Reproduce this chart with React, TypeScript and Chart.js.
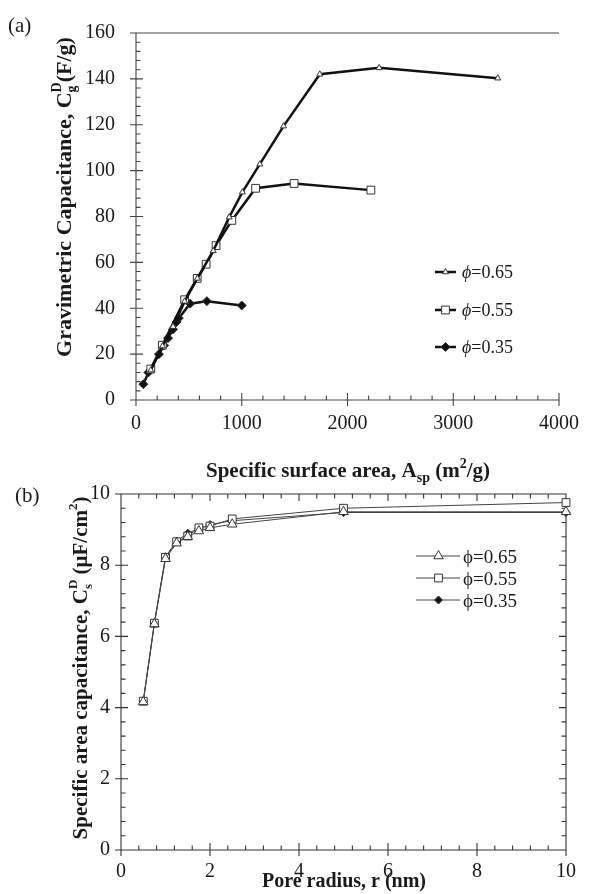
import React, { useEffect, useRef } from 'react';
import { Chart, registerables } from 'chart.js';

Chart.register(...registerables);

const W = 591;
const H = 894;
const SERIF = '"Liberation Serif", "Times New Roman", serif';

// ---------------- data: panel (a) ----------------
const legendValues = ['0.65', '0.55', '0.35'];

const areaA065 = [140, 250, 350, 460, 580, 730, 881, 1006, 1171, 1395, 1738, 2299, 3421];
const capA065 = [13, 23.5, 32, 43, 53, 65, 79.7, 90.6, 102.8, 119.4, 142, 144.8, 140.3];

const areaA055 = [140, 249, 460, 579, 663, 757, 906, 1131, 1495, 2221];
const capA055 = [13.5, 23.9, 43.7, 53, 59.2, 67.3, 78.3, 92.3, 94.4, 91.5];

const areaA035 = [70, 117, 217, 266, 303, 350, 383, 405, 511, 670, 1000];
const capA035 = [6.9, 12, 20, 23.8, 27, 30.8, 34, 35.7, 42, 43.1, 41.2];

const xTicksA = [0, 1000, 2000, 3000, 4000];
const yTicksA = [0, 20, 40, 60, 80, 100, 120, 140, 160];

// ---------------- data: panel (b) ----------------
const radiusB = [0.5, 0.75, 1.0, 1.25, 1.5, 1.75, 2, 2.5, 5, 10];
const capB065 = [4.16, 6.35, 8.18, 8.62, 8.8, 8.96, 9.05, 9.15, 9.5, 9.5];
const capB055 = [4.18, 6.37, 8.22, 8.66, 8.82, 9.05, 9.1, 9.3, 9.6, 9.76];
const capB035 = [4.18, 6.38, 8.24, 8.68, 8.9, 9.03, 9.14, 9.25, 9.48, 9.48];

const xTicksB = [0, 2, 4, 6, 8, 10];
const yTicksB = [0, 2, 4, 6, 8, 10];

// ---------------- helpers ----------------
type Part = { t: string; f: string; dy?: number; stack?: boolean };

function drawRich(ctx: CanvasRenderingContext2D, parts: Part[], x: number, y: number, align: 'left' | 'center', rotate: boolean) {
  ctx.save();
  ctx.translate(x, y);
  if (rotate) ctx.rotate(-Math.PI / 2);
  ctx.textBaseline = 'alphabetic';
  ctx.textAlign = 'left';
  const widths = parts.map((p) => {
    ctx.font = p.f;
    return ctx.measureText(p.t).width;
  });
  const pos: number[] = [];
  let cur = 0;
  let prevStart = 0;
  let prevW = 0;
  parts.forEach((p, i) => {
    const w = widths[i];
    if (p.stack) {
      pos.push(prevStart);
      cur = prevStart + Math.max(prevW, w);
    } else {
      pos.push(cur);
      prevStart = cur;
      prevW = w;
      cur += w;
    }
  });
  const x0 = align === 'center' ? -cur / 2 : 0;
  parts.forEach((p, i) => {
    ctx.font = p.f;
    ctx.fillText(p.t, x0 + pos[i], p.dy || 0);
  });
  ctx.restore();
}

function drawMarker(ctx: CanvasRenderingContext2D, style: string, x: number, y: number, r: number, fill: string, stroke: string) {
  ctx.save();
  ctx.beginPath();
  if (style === 'triangle') {
    let a = 0;
    ctx.moveTo(x + Math.sin(a) * r, y - Math.cos(a) * r);
    a += (2 * Math.PI) / 3;
    ctx.lineTo(x + Math.sin(a) * r, y - Math.cos(a) * r);
    a += (2 * Math.PI) / 3;
    ctx.lineTo(x + Math.sin(a) * r, y - Math.cos(a) * r);
    ctx.closePath();
  } else if (style === 'rect') {
    const s = r * Math.SQRT1_2;
    ctx.rect(x - s, y - s, 2 * s, 2 * s);
  } else {
    ctx.moveTo(x, y - r);
    ctx.lineTo(x + r, y);
    ctx.lineTo(x, y + r);
    ctx.lineTo(x - r, y);
    ctx.closePath();
  }
  ctx.fillStyle = fill;
  ctx.fill();
  ctx.strokeStyle = stroke;
  ctx.lineWidth = 1;
  ctx.stroke();
  ctx.restore();
}

type FrameOpts = {
  box: boolean;
  topLine: boolean;
  xMinor: number;
  xMajor: number;
  yMinor: number;
  yMajor: number;
  color: string;
};

function isMajor(v: number, step: number) {
  const q = v / step;
  return Math.abs(q - Math.round(q)) < 1e-6;
}

function drawFrame(chart: any, o: FrameOpts) {
  const ctx: CanvasRenderingContext2D = chart.ctx;
  const a = chart.chartArea;
  const xs = chart.scales.x;
  const ys = chart.scales.y;
  const OUT = 6;
  const MAJ = 7;
  const MIN = 4.5;
  ctx.save();
  ctx.strokeStyle = o.color;
  ctx.lineWidth = 1.1;
  ctx.beginPath();
  ctx.moveTo(a.left, a.top);
  ctx.lineTo(a.left, a.bottom);
  ctx.lineTo(a.right, a.bottom);
  if (o.box) {
    ctx.lineTo(a.right, a.top);
    ctx.lineTo(a.left, a.top);
  } else if (o.topLine) {
    ctx.moveTo(a.left, a.top);
    ctx.lineTo(a.right, a.top);
  }
  const ny = Math.round((ys.max - ys.min) / o.yMinor);
  for (let i = 0; i <= ny; i++) {
    const v = ys.min + i * o.yMinor;
    const p = ys.getPixelForValue(v);
    const major = isMajor(v, o.yMajor);
    if (major) {
      ctx.moveTo(a.left - OUT, p);
      ctx.lineTo(a.left + MAJ, p);
    } else {
      ctx.moveTo(a.left, p);
      ctx.lineTo(a.left + MIN, p);
    }
    if (o.box) {
      ctx.moveTo(a.right, p);
      ctx.lineTo(a.right - (major ? MAJ : MIN), p);
    }
  }
  const nx = Math.round((xs.max - xs.min) / o.xMinor);
  for (let i = 0; i <= nx; i++) {
    const v = xs.min + i * o.xMinor;
    const p = xs.getPixelForValue(v);
    const major = isMajor(v, o.xMajor);
    if (major) {
      ctx.moveTo(p, a.bottom + OUT);
      ctx.lineTo(p, a.bottom - MAJ);
    } else {
      ctx.moveTo(p, a.bottom);
      ctx.lineTo(p, a.bottom - MIN);
    }
    if (o.box) {
      ctx.moveTo(p, a.top);
      ctx.lineTo(p, a.top + (major ? MAJ : MIN));
    }
  }
  ctx.stroke();
  ctx.restore();
}

const mkData = (xs: number[], ys: number[]) => xs.map((x, i) => ({ x, y: ys[i] }));

const STYLES = ['triangle', 'rect', 'rectRot'];

// ---------------- panel (a) ----------------
function makeChartA(canvas: HTMLCanvasElement) {
  const B21 = `bold 21px ${SERIF}`;
  const B22 = `bold 22px ${SERIF}`;
  const B14 = `bold 14px ${SERIF}`;
  const decor = {
    id: 'decorA',
    beforeDatasetsDraw(chart: any) {
      drawFrame(chart, { box: false, topLine: true, xMinor: 200, xMajor: 1000, yMinor: 4, yMajor: 20, color: '#444' });
    },
    afterDraw(chart: any) {
      const ctx: CanvasRenderingContext2D = chart.ctx;
      ctx.save();
      ctx.fillStyle = '#1a1a1a';
      drawRich(ctx, [{ t: '(a)', f: `21px ${SERIF}` }], 8, 32, 'left', false);
      drawRich(
        ctx,
        [
          { t: 'Gravimetric Capacitance, C', f: B22 },
          { t: 'D', f: B14, dy: -10 },
          { t: 'g', f: B14, dy: 5, stack: true },
          { t: '(F/g)', f: B22 },
        ],
        71,
        197,
        'center',
        true
      );
      drawRich(
        ctx,
        [
          { t: 'Specific surface area, A', f: B21 },
          { t: 'sp', f: B14, dy: 5 },
          { t: ' (m', f: B21 },
          { t: '2', f: B14, dy: -9 },
          { t: '/g)', f: B21 },
        ],
        348,
        477,
        'center',
        false
      );
      // legend
      const ly = [272, 310, 347];
      const radii = [3.5, 5.5, 4.5];
      legendValues.forEach((val, i) => {
        ctx.save();
        ctx.strokeStyle = '#111';
        ctx.lineWidth = 2.5;
        ctx.beginPath();
        ctx.moveTo(435, ly[i]);
        ctx.lineTo(456, ly[i]);
        ctx.stroke();
        ctx.restore();
        drawMarker(ctx, STYLES[i], 445.5, ly[i], radii[i], i === 2 ? '#111' : '#fff', '#333');
        ctx.fillStyle = '#1a1a1a';
        drawRich(
          ctx,
          [
            { t: '\u03D5', f: `italic 18px ${SERIF}` },
            { t: '=' + val, f: `18px ${SERIF}` },
          ],
          462,
          ly[i] + 6,
          'left',
          false
        );
      });
      ctx.restore();
    },
  };

  const ds = (xs: number[], ys: number[], i: number, r: number) => ({
    label: 'ϕ=' + legendValues[i],
    data: mkData(xs, ys),
    showLine: true,
    borderColor: '#111',
    borderWidth: 2.5,
    pointStyle: STYLES[i],
    pointRadius: r,
    pointHoverRadius: r,
    pointBackgroundColor: i === 2 ? '#111' : '#fff',
    pointBorderColor: '#333',
    pointBorderWidth: 1,
    tension: 0,
    clip: false,
  });

  return new Chart(canvas, {
    type: 'scatter',
    data: {
      datasets: [
        ds(areaA065, capA065, 0, 3.5),
        ds(areaA055, capA055, 1, 5.5),
        ds(areaA035, capA035, 2, 4.5),
      ],
    },
    options: {
      responsive: false,
      animation: false,
      events: [],
      layout: { padding: { left: 0, top: 21, right: 25, bottom: 454 } },
      plugins: { legend: { display: false }, tooltip: { enabled: false } },
      scales: {
        x: {
          type: 'linear',
          min: 0,
          max: 4000,
          grid: { display: false, drawTicks: false },
          border: { display: false },
          ticks: {
            padding: 12,
            maxRotation: 0,
            color: '#1a1a1a',
            font: { family: SERIF, size: 20 },
            callback: (v: any) => String(v),
          },
          afterBuildTicks: (s: any) => {
            s.ticks = xTicksA.map((v) => ({ value: v }));
          },
          afterFit: (s: any) => {
            s.height = 40;
          },
        },
        y: {
          type: 'linear',
          min: 0,
          max: 160,
          grid: { display: false, drawTicks: false },
          border: { display: false },
          ticks: {
            padding: 21,
            color: '#1a1a1a',
            font: { family: SERIF, size: 20 },
            callback: (v: any) => String(v),
          },
          afterBuildTicks: (s: any) => {
            s.ticks = yTicksA.map((v) => ({ value: v }));
          },
          afterFit: (s: any) => {
            s.width = 136;
          },
        },
      },
    } as any,
    plugins: [decor],
  });
}

// ---------------- panel (b) ----------------
function makeChartB(canvas: HTMLCanvasElement) {
  const B21 = `bold 21px ${SERIF}`;
  const B20 = `bold 20px ${SERIF}`;
  const B13 = `bold 13px ${SERIF}`;
  const decor = {
    id: 'decorB',
    beforeDatasetsDraw(chart: any) {
      drawFrame(chart, { box: true, topLine: false, xMinor: 0.4, xMajor: 2, yMinor: 0.4, yMajor: 2, color: '#333' });
    },
    afterDraw(chart: any) {
      const ctx: CanvasRenderingContext2D = chart.ctx;
      ctx.save();
      ctx.fillStyle = '#1a1a1a';
      drawRich(ctx, [{ t: '(b)', f: `21px ${SERIF}` }], 15, 502, 'left', false);
      drawRich(
        ctx,
        [
          { t: 'Specific area capacitance, C', f: B21 },
          { t: 'D', f: B13, dy: -10 },
          { t: 's', f: B13, dy: 5, stack: true },
          { t: ' (\u03BCF/cm', f: B21 },
          { t: '2', f: B13, dy: -10 },
          { t: ')', f: B21 },
        ],
        87,
        668,
        'center',
        true
      );
      drawRich(ctx, [{ t: 'Pore radius, r (nm)', f: B20 }], 344, 887, 'center', false);
      // legend
      const ly = [556, 578, 600];
      const radii = [5.5, 5.5, 4];
      legendValues.forEach((val, i) => {
        ctx.save();
        ctx.strokeStyle = '#444';
        ctx.lineWidth = 1;
        ctx.beginPath();
        ctx.moveTo(416, ly[i]);
        ctx.lineTo(460, ly[i]);
        ctx.stroke();
        ctx.restore();
        drawMarker(ctx, STYLES[i], 438.5, ly[i], radii[i], i === 2 ? '#111' : '#fff', '#333');
        ctx.fillStyle = '#1a1a1a';
        drawRich(ctx, [{ t: '\u03D5=' + val, f: `19px ${SERIF}` }], 463, ly[i] + 7, 'left', false);
      });
      ctx.restore();
    },
  };

  const ds = (ys: number[], i: number, r: number) => ({
    label: 'ϕ=' + legendValues[i],
    data: mkData(radiusB, ys),
    showLine: true,
    borderColor: '#444',
    borderWidth: 1,
    pointStyle: STYLES[i],
    pointRadius: r,
    pointHoverRadius: r,
    pointBackgroundColor: i === 2 ? '#111' : '#fff',
    pointBorderColor: '#333',
    pointBorderWidth: 1,
    tension: 0,
    clip: false,
  });

  return new Chart(canvas, {
    type: 'scatter',
    data: {
      datasets: [ds(capB065, 0, 5.5), ds(capB055, 1, 5.5), ds(capB035, 2, 4)],
    },
    options: {
      responsive: false,
      animation: false,
      events: [],
      layout: { padding: { left: 0, top: 494, right: 25, bottom: 0 } },
      plugins: { legend: { display: false }, tooltip: { enabled: false } },
      scales: {
        x: {
          type: 'linear',
          min: 0,
          max: 10,
          grid: { display: false, drawTicks: false },
          border: { display: false },
          ticks: {
            padding: 10,
            maxRotation: 0,
            color: '#1a1a1a',
            font: { family: SERIF, size: 20 },
            callback: (v: any) => String(v),
          },
          afterBuildTicks: (s: any) => {
            s.ticks = xTicksB.map((v) => ({ value: v }));
          },
          afterFit: (s: any) => {
            s.height = 44;
          },
        },
        y: {
          type: 'linear',
          min: 0,
          max: 10,
          grid: { display: false, drawTicks: false },
          border: { display: false },
          ticks: {
            padding: 11,
            color: '#1a1a1a',
            font: { family: SERIF, size: 20 },
            callback: (v: any) => String(v),
          },
          afterBuildTicks: (s: any) => {
            s.ticks = yTicksB.map((v) => ({ value: v }));
          },
          afterFit: (s: any) => {
            s.width = 121;
          },
        },
      },
    } as any,
    plugins: [decor],
  });
}

export default function App() {
  const refA = useRef<HTMLCanvasElement>(null);
  const refB = useRef<HTMLCanvasElement>(null);

  useEffect(() => {
    const a = makeChartA(refA.current!);
    const b = makeChartB(refB.current!);
    return () => {
      a.destroy();
      b.destroy();
    };
  }, []);

  const cs: React.CSSProperties = { position: 'absolute', left: 0, top: 0, width: W, height: H };
  return (
    <div style={{ position: 'absolute', left: 0, top: 0, width: W, height: H, background: '#fff' }}>
      <canvas ref={refA} width={W} height={H} style={cs} />
      <canvas ref={refB} width={W} height={H} style={cs} />
    </div>
  );
}
